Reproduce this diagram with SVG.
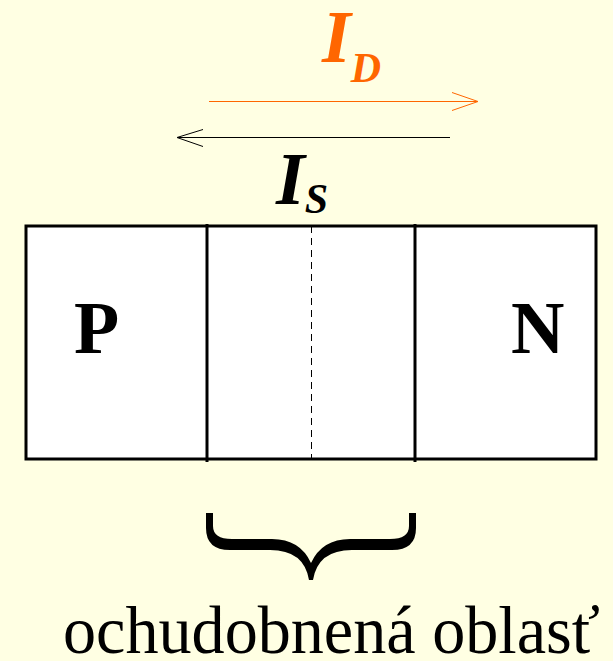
<svg xmlns="http://www.w3.org/2000/svg" width="613" height="661" viewBox="0 0 613 661">
<defs>
<style>
.box{fill:#FFFFFF;stroke:#000;stroke-width:3;}
.div{stroke:#000;stroke-width:3;}
</style>
</defs>
<rect x="0" y="0" width="613" height="661" fill="#FFFFE3"/>
<g id="junction">
<rect class="box" x="26" y="226" width="570" height="233"/>
<line class="div" x1="207" y1="224" x2="207" y2="462"/>
<line class="div" x1="415" y1="224" x2="415" y2="462"/>
<line x1="311.5" y1="226" x2="311.5" y2="459" stroke="#000" stroke-width="1" stroke-dasharray="7,5"/>
</g>
<g id="p-region"><text x="74" y="353" font-family="'Liberation Serif', serif" font-weight="bold" font-size="74">P</text></g>
<g id="n-region"><text x="511" y="353" font-family="'Liberation Serif', serif" font-weight="bold" font-size="74">N</text></g>
<g id="connectors">
<g id="id-arrow" stroke="#FF6600" stroke-width="1" fill="none">
<line x1="209" y1="101.5" x2="477" y2="101.5"/>
<polyline points="452,92.5 478,101.5 452,110.5"/>
</g>
<g id="is-arrow" stroke="#000" stroke-width="1" fill="none">
<line x1="450" y1="137.5" x2="178" y2="137.5"/>
<polyline points="203,129.5 177,137.5 203,146.5"/>
</g>
</g>
<g id="id-label"><text x="322" y="62" font-family="'Liberation Serif', serif" font-weight="bold" font-style="italic" font-size="74" fill="#FF6600">I<tspan font-size="42" dy="20">D</tspan></text></g>
<g id="is-label"><text x="276" y="204" font-family="'Liberation Serif', serif" font-weight="bold" font-style="italic" font-size="74" fill="#000">I<tspan font-size="42" dy="9">S</tspan></text></g>
<g id="brace">
<path fill="#000" d="M206,513 L213,513 L213,526 Q213,539 232,539 L272,539 Q300,539 311,563 Q322,539 350,539 L390,539 Q409,539 409,526 L409,513 L416,513 L416,528 Q416,550 392,550 L352,550 Q318,550 313,580 L309,580 Q304,550 270,550 L230,550 Q206,550 206,528 Z"/>
</g>
<g id="caption"><text x="63" y="653" font-family="'Liberation Serif', serif" font-size="67" textLength="537" lengthAdjust="spacingAndGlyphs">ochudobnená oblasť</text></g>
</svg>
